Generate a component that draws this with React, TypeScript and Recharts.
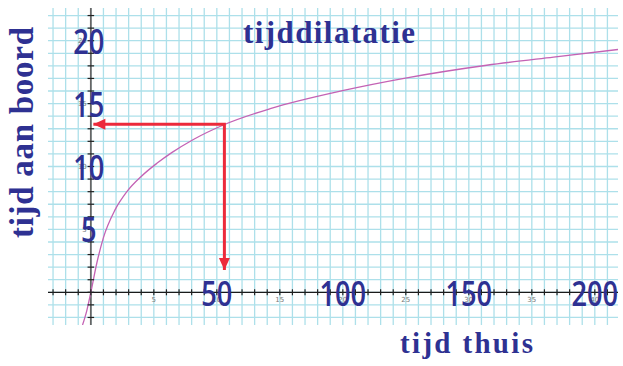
import React from 'react';
import { CartesianGrid, ComposedChart, Line, ReferenceLine, Scatter, XAxis, YAxis } from 'recharts';

// curve: time at home (x) vs time on board (y)
const homeYears = [-3.3, -1.6, 0, 2.4, 5, 9.6, 14.3, 20.2, 26.2, 32.1, 40.7, 52.6, 71.2, 100.3, 125.4, 157.1, 183.6, 209.2];
const boardYears = [-2.6, -1.45, 0, 2.35, 4.35, 6.55, 8.0, 9.25, 10.25, 11.1, 12.15, 13.3, 14.6, 16.05, 17.05, 18.05, 18.7, 19.3];

// the red reading arrows
const readHome = 53;
const readBoard = 13.35;
const arrowTipHome = 1;
const arrowTipBoard = 1.77;

// small grey labels of the underlying grid, and the big overlaid labels
const xSmallLabelAt = [25, 50, 75, 100, 125, 150, 175, 200];
const xSmallLabels = ['5', '10', '15', '20', '25', '30', '35', '40'];
const ySmallLabelAt = [5, 10, 15, 20];
const ySmallLabels = ['5', '10', '15', '20'];
const xBigLabelAt = [50, 100, 150, 200];
const xBigLabels = ['50', '100', '150', '200'];
const yBigLabelAt = [5, 10, 15, 20];
const yBigLabels = ['5', '10', '15', '20'];

const X_DOMAIN: [number, number] = [-17, 209.2];
const Y_DOMAIN: [number, number] = [-2.6, 22.6];

const xGridValues = Array.from({ length: 45 }, (_, i) => -15 + i * 5);
const yGridValues = Array.from({ length: 25 }, (_, i) => -2 + i);

const NAVY = '#2e3192';
const RED = '#ec2a3b';
const GRID = '#ade0ea';
const CURVE = '#c462b4';

const curveData = homeYears.map((x, i) => ({ x, y: boardYears[i] }));
const arrowData = [
  { x: arrowTipHome, y: readBoard },
  { x: readHome, y: readBoard },
  { x: readHome, y: arrowTipBoard },
];
const leftHead = [{ x: arrowTipHome, y: readBoard }];
const downHead = [{ x: readHome, y: arrowTipBoard }];

const xTickData = xGridValues.map((x) => ({ x, y: 0 }));
const yTickData = yGridValues.map((y) => ({ x: 0, y }));
const xSmallData = xSmallLabelAt.map((x, i) => ({ x, y: 0, label: xSmallLabels[i] }));
const ySmallData = ySmallLabelAt.map((y, i) => ({ x: 0, y, label: ySmallLabels[i] }));
const xBigData = xBigLabelAt.map((x, i) => ({ x, y: 0, label: xBigLabels[i] }));
const yBigData = yBigLabelAt.map((y, i) => ({ x: 0, y, label: yBigLabels[i] }));

const XTick = ({ cx, cy }: any) => (
  <line x1={cx} x2={cx} y1={cy - 3} y2={cy + 3} stroke="#222" strokeWidth={1.2} />
);
const YTick = ({ cx, cy }: any) => (
  <line x1={cx - 3.3} x2={cx + 3.3} y1={cy} y2={cy} stroke="#222" strokeWidth={1.2} />
);

const XSmallLabel = ({ cx, cy, payload }: any) => (
  <text x={cx} y={cy + 10} textAnchor="middle" fontSize={7} fill="#777" fontFamily="DejaVu Sans">
    {payload.label}
  </text>
);
const YSmallLabel = ({ cx, cy, payload }: any) => (
  <text x={cx - 4} y={cy + 2.5} textAnchor="end" fontSize={7} fill="#777" fontFamily="DejaVu Sans">
    {payload.label}
  </text>
);

const bigFont = "'Open Sans', 'Noto Sans', sans-serif";

const XBigLabel = ({ cx, cy, payload }: any) => (
  <text
    transform={`translate(${cx},${cy + 14}) scale(0.8,1)`}
    textAnchor="middle"
    fontSize={34}
    fontWeight={600}
    fill={NAVY}
    fontFamily={bigFont}
  >
    {payload.label}
  </text>
);
const YBigLabel = ({ cx, cy, payload }: any) => (
  <text
    transform={`translate(${cx - 2},${cy + 13}) scale(0.8,1)`}
    textAnchor="middle"
    fontSize={34}
    fontWeight={600}
    fill={NAVY}
    fontFamily={bigFont}
  >
    {payload.label}
  </text>
);

const LeftHead = ({ cx, cy }: any) => (
  <polygon points={`${cx},${cy} ${cx + 12},${cy - 5.5} ${cx + 12},${cy + 5.5}`} fill={RED} />
);
const DownHead = ({ cx, cy }: any) => (
  <polygon points={`${cx},${cy} ${cx - 5.5},${cy - 12} ${cx + 5.5},${cy - 12}`} fill={RED} />
);

const titleFont = "'Liberation Serif', 'Times New Roman', serif";

export default function App() {
  return (
    <div style={{ position: 'absolute', left: 0, top: 0, width: 623, height: 366, background: '#fff' }}>
      <ComposedChart width={623} height={366} margin={{ top: 8, right: 5, bottom: 41, left: 48 }}>
        <CartesianGrid
          stroke={GRID}
          strokeWidth={1.3}
          verticalValues={xGridValues}
          horizontalValues={yGridValues}
        />
        <XAxis
          type="number"
          dataKey="x"
          domain={X_DOMAIN}
          ticks={xGridValues}
          interval={0}
          allowDataOverflow
          hide
        />
        <YAxis
          type="number"
          dataKey="y"
          domain={Y_DOMAIN}
          ticks={yGridValues}
          interval={0}
          allowDataOverflow
          hide
        />

        <ReferenceLine x={0} stroke="#666" strokeWidth={1.8} />
        <ReferenceLine y={0} stroke="#1a1a1a" strokeWidth={1.3} />

        <Scatter data={xTickData} shape={XTick} isAnimationActive={false} />
        <Scatter data={yTickData} shape={YTick} isAnimationActive={false} />
        <Scatter data={xSmallData} shape={XSmallLabel} isAnimationActive={false} />
        <Scatter data={ySmallData} shape={YSmallLabel} isAnimationActive={false} />

        <Line
          data={curveData}
          dataKey="y"
          type="monotone"
          stroke={CURVE}
          strokeWidth={1.3}
          dot={false}
          isAnimationActive={false}
        />

        <Line
          data={arrowData}
          dataKey="y"
          type="linear"
          stroke={RED}
          strokeWidth={3}
          dot={false}
          isAnimationActive={false}
        />
        <Scatter data={leftHead} shape={LeftHead} isAnimationActive={false} />
        <Scatter data={downHead} shape={DownHead} isAnimationActive={false} />

        <Scatter data={xBigData} shape={XBigLabel} isAnimationActive={false} />
        <Scatter data={yBigData} shape={YBigLabel} isAnimationActive={false} />
      </ComposedChart>

      <svg
        width={623}
        height={366}
        style={{ position: 'absolute', left: 0, top: 0, pointerEvents: 'none' }}
      >
        <text x={243} y={43} fontSize={31} fontWeight="bold" fill={NAVY} fontFamily={titleFont} textLength={172}>
          tijddilatatie
        </text>
        <text
          transform="translate(33,238) rotate(-90)"
          fontSize={33}
          fontWeight="bold"
          fill={NAVY}
          fontFamily={titleFont}
          textLength={211}
        >
          tijd aan boord
        </text>
        <text x={400} y={353} fontSize={29} fontWeight="bold" fill={NAVY} fontFamily={titleFont} textLength={133}>
          tijd thuis
        </text>
      </svg>
    </div>
  );
}
